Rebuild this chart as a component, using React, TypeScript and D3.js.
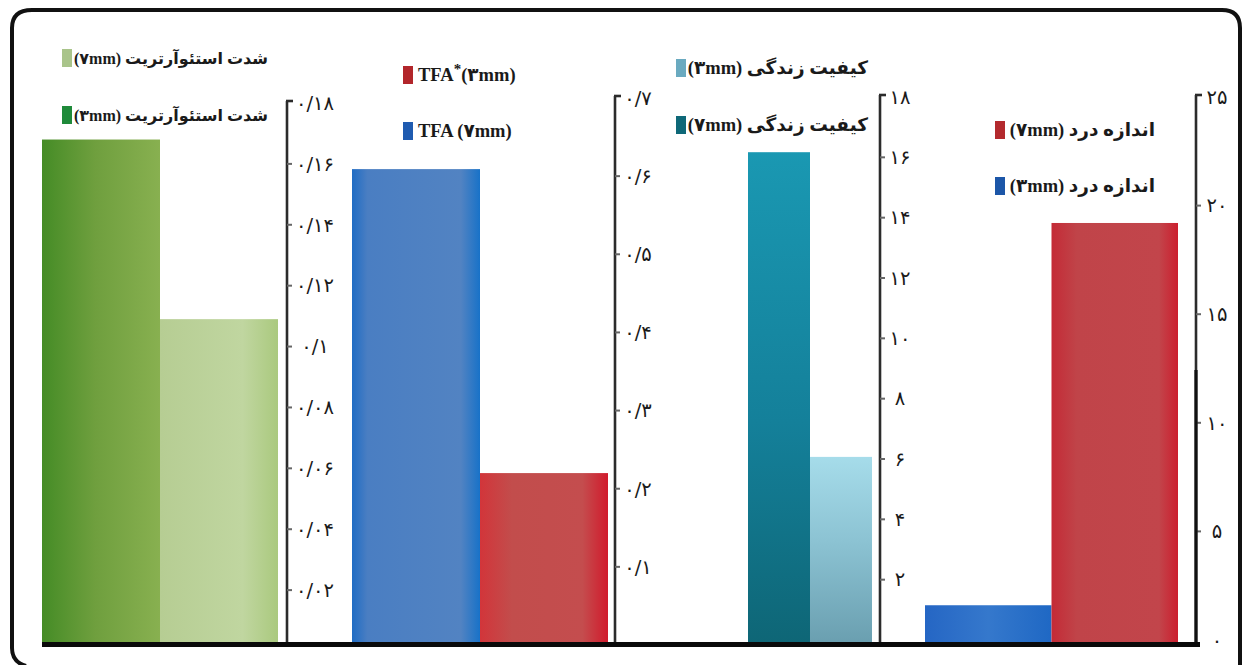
import React from "react";
import * as d3 from "d3";

// ---------- data ----------
const osteoCategories = ["3mm", "7mm"];
const osteoValues = [0.168, 0.109];
const osteoTicks = [0.02, 0.04, 0.06, 0.08, 0.1, 0.12, 0.14, 0.16, 0.18];
const osteoTickLabels = ["۰/۰۲", "۰/۰۴", "۰/۰۶", "۰/۰۸", "۰/۱", "۰/۱۲", "۰/۱۴", "۰/۱۶", "۰/۱۸"];
const osteoLegend = ["(۷mm) شدت استئوآرتریت", "(۳mm) شدت استئوآرتریت"];

const tfaCategories = ["7mm", "3mm"];
const tfaValues = [0.609, 0.22];
const tfaTicks = [0.1, 0.2, 0.3, 0.4, 0.5, 0.6, 0.7];
const tfaTickLabels = ["۰/۱", "۰/۲", "۰/۳", "۰/۴", "۰/۵", "۰/۶", "۰/۷"];

const qolCategories = ["7mm", "3mm"];
const qolValues = [16.17, 6.07];
const qolTicks = [2, 4, 6, 8, 10, 12, 14, 16, 18];
const qolTickLabels = ["۲", "۴", "۶", "۸", "۱۰", "۱۲", "۱۴", "۱۶", "۱۸"];
const qolLegend = ["(۳mm) کیفیت زندگی", "(۷mm) کیفیت زندگی"];

const painCategories = ["3mm", "7mm"];
const painValues = [1.6, 19.2];
const painTicks = [0, 5, 10, 15, 20, 25];
const painTickLabels = ["۰", "۵", "۱۰", "۱۵", "۲۰", "۲۵"];
const painLegend = ["(۷mm) اندازه درد", "(۳mm) اندازه درد"];

// ---------- layout ----------
const W = 1246;
const H = 665;
const BASE = 643;

type Panel = {
  cats: string[];
  vals: number[];
  ticks: number[];
  labels: string[];
  max: number;
  yRange: [number, number];
  xRange: [number, number];
  axisX: number;
  axisTop: number;
  labelX: number;
  grads: string[];
};

const panels: Panel[] = [
  {
    cats: osteoCategories, vals: osteoValues, ticks: osteoTicks, labels: osteoTickLabels,
    max: 0.18, yRange: [651, 103], xRange: [42, 278], axisX: 287, axisTop: 101, labelX: 315,
    grads: ["gDarkGreen", "gLightGreen"],
  },
  {
    cats: tfaCategories, vals: tfaValues, ticks: tfaTicks, labels: tfaTickLabels,
    max: 0.7, yRange: [645, 98], xRange: [352, 608], axisX: 615, axisTop: 96, labelX: 638,
    grads: ["gBlue", "gRed"],
  },
  {
    cats: qolCategories, vals: qolValues, ticks: qolTicks, labels: qolTickLabels,
    max: 18, yRange: [640, 97], xRange: [748, 872], axisX: 880, axisTop: 95, labelX: 900,
    grads: ["gTeal", "gLightTeal"],
  },
  {
    cats: painCategories, vals: painValues, ticks: painTicks, labels: painTickLabels,
    max: 25, yRange: [640, 97], xRange: [925, 1178], axisX: 1196, axisTop: 95, labelX: 1217,
    grads: ["gBlue2", "gRed2"],
  },
];

const gradDefs: { id: string; vertical?: boolean; stops: [string, string][] }[] = [
  { id: "gDarkGreen", stops: [["0%", "#458c26"], ["45%", "#6f9f3e"], ["100%", "#88b050"]] },
  { id: "gLightGreen", stops: [["0%", "#b6cd93"], ["70%", "#c0d6a0"], ["100%", "#aac97e"]] },
  { id: "gBlue", stops: [["0%", "#1f6cc4"], ["12%", "#4a7ec2"], ["85%", "#5283c2"], ["100%", "#1872c8"]] },
  { id: "gRed", stops: [["0%", "#d2353a"], ["25%", "#c24d4c"], ["80%", "#c44d4e"], ["100%", "#d11a2c"]] },
  { id: "gTeal", vertical: true, stops: [["0%", "#1a98b2"], ["55%", "#14809a"], ["100%", "#0e6676"]] },
  { id: "gLightTeal", vertical: true, stops: [["0%", "#a6dcea"], ["45%", "#8cc3d3"], ["100%", "#6a9fb0"]] },
  { id: "gBlue2", stops: [["0%", "#2566c4"], ["50%", "#3578cc"], ["100%", "#1f68c4"]] },
  { id: "gRed2", stops: [["0%", "#c42a36"], ["20%", "#c04449"], ["85%", "#c2454b"], ["100%", "#cc1e2e"]] },
];

const legendFont = "'Liberation Serif', 'DejaVu Sans', serif";
const tickFont = "'DejaVu Sans', sans-serif";

function PanelView({ p }: { p: Panel }) {
  const y = d3.scaleLinear().domain([0, p.max]).range(p.yRange);
  const x = d3.scaleBand<string>().domain(p.cats).range(p.xRange).padding(0);
  return (
    <g>
      {p.cats.map((c, i) => (
        <rect
          key={c}
          x={x(c)}
          y={y(p.vals[i])}
          width={x.bandwidth()}
          height={BASE - y(p.vals[i])}
          fill={`url(#${p.grads[i]})`}
        />
      ))}
      <line x1={p.axisX} x2={p.axisX} y1={p.axisTop} y2={BASE + 3} stroke="#2b2b2b" strokeWidth={2.6} />
      <line x1={p.axisX - 1} x2={p.axisX + 6} y1={p.axisTop} y2={p.axisTop} stroke="#2b2b2b" strokeWidth={2.6} />
      {p.ticks.map((t, i) => (
        <g key={t}>
          {y(t) > p.axisTop + 8 && y(t) < BASE - 5 && (
            <line x1={p.axisX} x2={p.axisX + 5} y1={y(t)} y2={y(t)} stroke="#666" strokeWidth={2} />
          )}
          <text
            x={p.labelX}
            y={y(t)}
            dy="0.35em"
            textAnchor="middle"
            fontFamily={tickFont}
            fontSize={19.5}
            fill="#1a1a1a"
          >
            {p.labels[i]}
          </text>
        </g>
      ))}
    </g>
  );
}

function LegendItem({ x, y, color, text, anchorRight, size }: { x: number; y: number; color: string; text: string; anchorRight: number; size: number }) {
  return (
    <g>
      <rect x={x} y={y - 9} width={10} height={18} fill={color} />
      <text
        x={anchorRight}
        y={y}
        dy="0.35em"
        textAnchor="end"
        fontFamily={legendFont}
        fontWeight="bold"
        fontSize={size}
        fill="#1a1a1a"
      >
        {text}
      </text>
    </g>
  );
}

export default function App() {
  return (
    <svg
      width={W}
      height={H}
      viewBox={`0 0 ${W} ${H}`}
      style={{ position: "absolute", left: 0, top: 0, background: "#fff" }}
    >
      <defs>
        {gradDefs.map((g) => (
          <linearGradient key={g.id} id={g.id} x1="0" x2={g.vertical ? "0" : "1"} y1="0" y2={g.vertical ? "1" : "0"}>
            {g.stops.map(([o, c]) => (
              <stop key={o} offset={o} stopColor={c} />
            ))}
          </linearGradient>
        ))}
      </defs>

      {/* frame */}
      <path
        d="M 26 666 Q 12 662 12 648 L 12 28 Q 12 10 32 10 L 1222 10 Q 1240 10 1240 28 L 1240 666"
        fill="none"
        stroke="#111"
        strokeWidth={4}
      />

      {panels.map((p, i) => (
        <PanelView key={i} p={p} />
      ))}

      {/* second-tone lower part of last axis */}
      <line x1={1196} x2={1196} y1={370} y2={BASE + 3} stroke="#111" strokeWidth={3.2} />

      {/* baseline */}
      <line x1={42} x2={1200} y1={BASE + 1.5} y2={BASE + 1.5} stroke="#0a0a0a" strokeWidth={5} />

      {/* legends */}
      <LegendItem x={62} y={58} color="#a9c48a" text={osteoLegend[0]} anchorRight={268} size={16} />
      <LegendItem x={62} y={115} color="#1f8a3a" text={osteoLegend[1]} anchorRight={268} size={16} />

      <g>
        <rect x={403} y={66} width={10} height={18} fill="#b2262b" />
        <text x={418} y={75} dy="0.35em" fontFamily={legendFont} fontWeight="bold" fontSize={18.5} fill="#1a1a1a">
          TFA
          <tspan dy={-7} fontSize={15}>*</tspan>
          <tspan dy={7}>(۳mm)</tspan>
        </text>
        <rect x={403} y={122} width={10} height={18} fill="#1f5bb0" />
        <text x={418} y={131} dy="0.35em" fontFamily={legendFont} fontWeight="bold" fontSize={18.5} fill="#1a1a1a">
          TFA (۷mm)
        </text>
      </g>

      <LegendItem x={676} y={68} color="#6aaac0" text={qolLegend[0]} anchorRight={868} size={18.5} />
      <LegendItem x={676} y={125} color="#0e6878" text={qolLegend[1]} anchorRight={868} size={18.5} />

      <LegendItem x={995} y={130} color="#b32a2e" text={painLegend[0]} anchorRight={1155} size={18.5} />
      <LegendItem x={995} y={186} color="#1c56a8" text={painLegend[1]} anchorRight={1155} size={18.5} />
    </svg>
  );
}
